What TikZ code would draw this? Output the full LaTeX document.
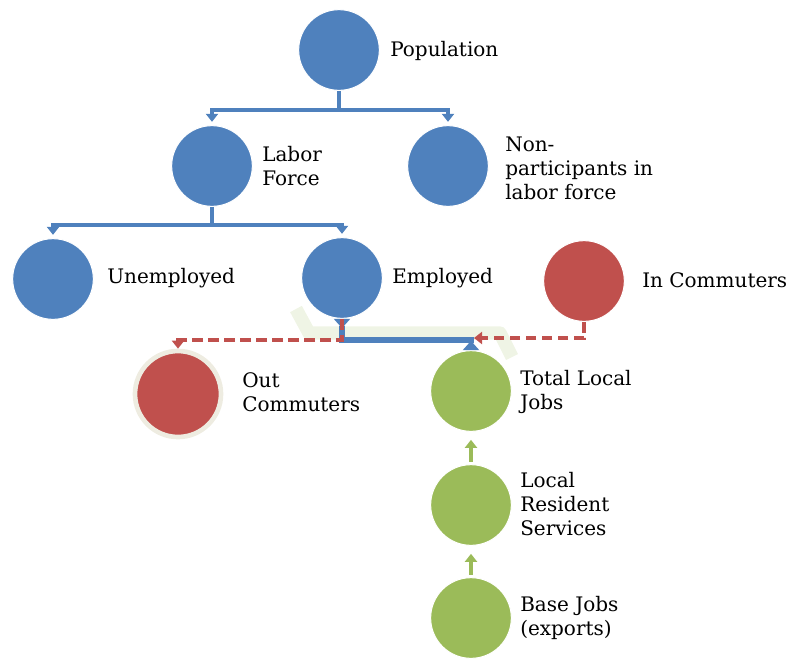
\documentclass[tikz,border=0pt]{standalone}
\usepackage{fontspec}
\setmainfont{DejaVu Serif}
\usetikzlibrary{arrows.meta}
\definecolor{cblue}{HTML}{4F81BD}
\definecolor{cred}{HTML}{C0504D}
\definecolor{cgreen}{HTML}{9BBB59}
\definecolor{cring}{HTML}{EEECE1}
\definecolor{cglow}{HTML}{D7E4BD}
\begin{document}
\begin{tikzpicture}[x=0.75pt,y=-0.75pt,
  circ/.style={circle,minimum size=60.5pt,inner sep=0pt,draw=white,line width=0.75pt},
  bluec/.style={circ,fill=cblue},
  redc/.style={circ,fill=cred},
  greenc/.style={circ,fill=cgreen},
  lbl/.style={anchor=west,align=left,inner sep=0pt,font=\fontsize{15}{18}\selectfont},
  barr/.style={draw=cblue,line width=3pt,-{Triangle[width=9pt,length=6pt]},shorten >=2.5pt},
  rarr/.style={draw=cred,line width=3pt,dash pattern=on 8pt off 4pt,-{Triangle[width=9pt,length=6pt]}},
  garr/.style={draw=cgreen,line width=3.5pt,-{Triangle[width=9pt,length=6pt]},shorten >=6pt,shorten <=2pt},
  glow/.style={draw=cglow,line width=10pt,opacity=0.4,line join=round}
]
\useasboundingbox (0,0) rectangle (790,658);

% circles
\node[bluec] (pop) at (339,50) {};
\node[bluec] (lab) at (212,166) {};
\node[bluec] (nonp) at (448,166) {};
\node[bluec] (unemp) at (53,279) {};
\node[bluec] (emp) at (342,278) {};
\node[redc] (inc) at (584,281) {};
\node[circ,fill=cred,draw=cring,line width=3.5pt,minimum size=64.5pt] (outc) at (178,394) {};
\node[greenc] (tlj) at (471,391) {};
\node[greenc] (lrs) at (471,505) {};
\node[greenc] (base) at (471,618) {};

% labels
\node[lbl] (popt) at (390,51) {Population};
\node[lbl] (labt) at (262,166) {Labor\\Force};
\node[lbl] (nonpt) at (505,168) {Non-\\participants in\\labor force};
\node[lbl] (unempt) at (107,278) {Unemployed};
\node[lbl] (empt) at (392,278) {Employed};
\node[lbl] (inct) at (642,280) {In Commuters};
\node[lbl] (outct) at (242,392) {Out\\Commuters};
\node[lbl] (tljt) at (520,392) {Total Local\\Jobs};
\node[lbl] (lrst) at (520,504) {Local\\Resident\\Services};
\node[lbl] (baset) at (520,618) {Base Jobs\\(exports)};

% glow
\draw[glow] (296,309) -- (309,333) -- (500,333) -- (512,357);

% tree connectors
\draw[barr] (pop.south) -- ++(0,19) -| (lab.north);
\draw[barr] (pop.south) -- ++(0,19) -| (nonp.north);
\draw[barr] (lab.south) -- ++(0,18) -| (unemp.north);
\draw[barr] (lab.south) -- ++(0,18) -| (emp.north);

% employed <-> total local jobs
\draw[draw=cblue,line width=4.5pt,{Triangle[reversed,width=12pt,length=7pt]}-{Triangle[reversed,width=12pt,length=7pt]}]
  (emp.south) -- ++(0,21) -| (tlj.north);

% commuters
\coordinate (injoin) at (474,338);
\draw[rarr] (emp.south) -- ++(0,21) -| (outc.north);
\draw[rarr] (inc.south) |- (injoin);

% green arrows
\draw[garr] (lrs.north) -- (tlj.south);
\draw[garr] (base.north) -- (lrs.south);
\end{tikzpicture}
\end{document}
